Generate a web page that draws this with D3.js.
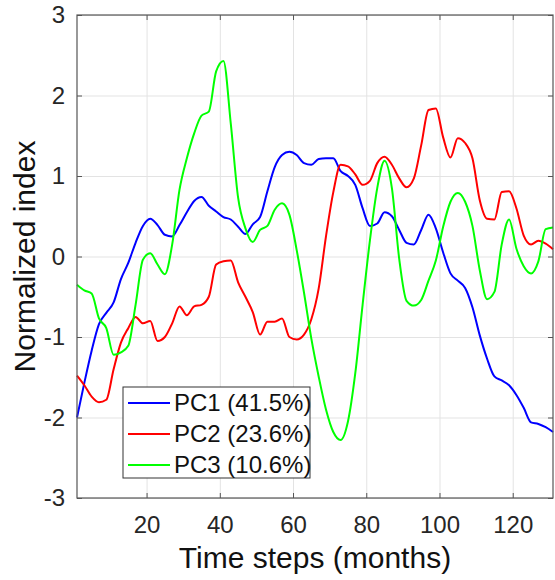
<!DOCTYPE html>
<html>
<head>
<meta charset="utf-8">
<script src="https://cdn.jsdelivr.net/npm/d3@7"></script>
<style>
  body { margin: 0; background: #fff; }
  text { font-family: Arial, "Liberation Sans", Helvetica, sans-serif; }
  .grid line { stroke: #e3e3e3; stroke-width: 1; }
  .grid path { display: none; }
</style>
</head>
<body>
<div id="chart"></div>
<script>
// time steps (every second month)
const months = d3.range(1, 132, 2);

// principal component scores
const pc1 = [-2.00, -1.57, -1.17, -0.84, -0.70, -0.57, -0.28, -0.08, 0.17, 0.38,
  0.47, 0.39, 0.27, 0.25, 0.39, 0.55, 0.69, 0.74, 0.63, 0.56,
  0.49, 0.46, 0.37, 0.28, 0.40, 0.49, 0.81, 1.11, 1.26, 1.30,
  1.26, 1.16, 1.14, 1.21, 1.22, 1.22, 1.06, 1.00, 0.89, 0.60,
  0.38, 0.41, 0.55, 0.50, 0.33, 0.17, 0.15, 0.33, 0.52, 0.35,
  0.05, -0.21, -0.30, -0.39, -0.63, -0.98, -1.27, -1.49, -1.54, -1.60,
  -1.72, -1.88, -2.06, -2.08, -2.12, -2.18];

const pc2 = [-1.48, -1.60, -1.74, -1.81, -1.78, -1.40, -1.07, -0.89, -0.75, -0.83,
  -0.80, -1.05, -1.00, -0.83, -0.62, -0.73, -0.62, -0.60, -0.50, -0.10,
  -0.06, -0.05, -0.32, -0.50, -0.69, -0.97, -0.81, -0.81, -0.77, -1.00,
  -1.03, -0.97, -0.78, -0.40, 0.25, 0.80, 1.14, 1.12, 1.02, 0.89,
  0.94, 1.16, 1.24, 1.14, 0.97, 0.86, 0.97, 1.38, 1.82, 1.84,
  1.48, 1.23, 1.47, 1.41, 1.22, 0.70, 0.47, 0.46, 0.80, 0.81,
  0.60, 0.26, 0.15, 0.195, 0.16, 0.09];

const pc3 = [-0.35, -0.42, -0.46, -0.77, -0.89, -1.22, -1.19, -1.11, -0.60, -0.04,
  0.04, -0.10, -0.22, 0.15, 0.83, 1.22, 1.53, 1.75, 1.80, 2.30,
  2.43, 1.65, 0.73, 0.35, 0.18, 0.33, 0.38, 0.58, 0.66, 0.52,
  0.08, -0.45, -1.02, -1.49, -1.90, -2.18, -2.28, -2.05, -1.45, -0.60,
  0.20, 0.85, 1.19, 0.85, -0.03, -0.55, -0.61, -0.54, -0.30, -0.05,
  0.37, 0.68, 0.79, 0.68, 0.38, -0.17, -0.53, -0.44, 0.15, 0.46,
  0.10, -0.12, -0.21, -0.06, 0.34, 0.36];

const seriesNames = ["PC1 (41.5%)", "PC2 (23.6%)", "PC3 (10.6%)"];
const seriesColors = ["#0000ff", "#ff0000", "#00ff00"];
const xTicks = [20, 40, 60, 80, 100, 120];
const yTicks = [-3, -2, -1, 0, 1, 2, 3];

const series = [pc1, pc2, pc3].map((vals, i) => ({
  name: seriesNames[i],
  color: seriesColors[i],
  values: months.map((m, j) => ({ t: m, v: vals[j] }))
}));

// set the dimensions and margins of the graph
let margin = { top: 15, right: 2, bottom: 82, left: 77 },
  width = 555 - margin.left - margin.right,
  height = 580 - margin.top - margin.bottom;

let x = d3.scaleLinear().domain([1, 131]).range([0, width]);
let y = d3.scaleLinear().domain([-3, 3]).range([height, 0]);

let svg = d3.select("#chart").append("svg")
  .attr("width", 555)
  .attr("height", 580)
  .append("g")
  .attr("transform", "translate(" + margin.left + "," + margin.top + ")");

// gridlines
svg.append("g")
  .attr("class", "grid")
  .attr("transform", "translate(0," + height + ")")
  .call(d3.axisBottom(x).tickValues(xTicks).tickSize(-height).tickFormat(""));
svg.append("g")
  .attr("class", "grid")
  .call(d3.axisLeft(y).tickValues(yTicks).tickSize(-width).tickFormat(""));

// lines
let valueline = d3.line()
  .x(d => x(d.t))
  .y(d => y(d.v))
  .curve(d3.curveMonotoneX);

svg.selectAll(".series")
  .data(series)
  .enter().append("path")
  .attr("class", "series")
  .attr("fill", "none")
  .attr("stroke", d => d.color)
  .attr("stroke-width", 2)
  .attr("stroke-linejoin", "round")
  .attr("d", d => valueline(d.values));

// axes with inward ticks, MATLAB-like box
const axisColor = "#555";
function styleAxis(g) {
  g.select(".domain").remove();
  g.selectAll(".tick line").attr("stroke", axisColor);
  g.selectAll("text").attr("fill", "#262626").attr("font-size", "24px");
}

svg.append("g")
  .attr("transform", "translate(0," + height + ")")
  .call(d3.axisBottom(x).tickValues(xTicks).tickSizeInner(-5).tickPadding(18))
  .call(styleAxis);
svg.append("g")
  .call(d3.axisLeft(y).tickValues(yTicks).tickSizeInner(-5).tickPadding(12)
    .tickFormat(d => String(d)))
  .call(styleAxis);
svg.append("g")
  .call(d3.axisTop(x).tickValues(xTicks).tickSizeInner(-5).tickFormat(""))
  .call(styleAxis);
svg.append("g")
  .attr("transform", "translate(" + width + ",0)")
  .call(d3.axisRight(y).tickValues(yTicks).tickSizeInner(-5).tickFormat(""))
  .call(styleAxis);

svg.append("rect")
  .attr("width", width)
  .attr("height", height)
  .attr("fill", "none")
  .attr("stroke", axisColor)
  .attr("stroke-width", 1.2);

// axis labels
svg.append("text")
  .attr("x", width / 2)
  .attr("y", height + 70)
  .attr("text-anchor", "middle")
  .attr("font-size", "30px")
  .attr("fill", "#111")
  .text("Time steps (months)");

svg.append("text")
  .attr("transform", "translate(-42," + (height / 2) + ") rotate(-90)")
  .attr("text-anchor", "middle")
  .attr("font-size", "30px")
  .attr("fill", "#111")
  .text("Normalized index");

// legend
let legend = svg.append("g")
  .attr("transform", "translate(" + (123 - margin.left) + "," + (387 - margin.top) + ")");
legend.append("rect")
  .attr("width", 187)
  .attr("height", 91)
  .attr("fill", "#fff")
  .attr("stroke", "#333")
  .attr("stroke-width", 1);

let item = legend.selectAll(".item")
  .data(series)
  .enter().append("g")
  .attr("class", "item")
  .attr("transform", (d, i) => "translate(0," + (16 + i * 31) + ")");
item.append("line")
  .attr("x1", 5).attr("x2", 47)
  .attr("stroke", d => d.color)
  .attr("stroke-width", 2);
item.append("text")
  .attr("x", 51)
  .attr("dy", "0.35em")
  .attr("font-size", "24px")
  .attr("fill", "#111")
  .text(d => d.name);
</script>
</body>
</html>
